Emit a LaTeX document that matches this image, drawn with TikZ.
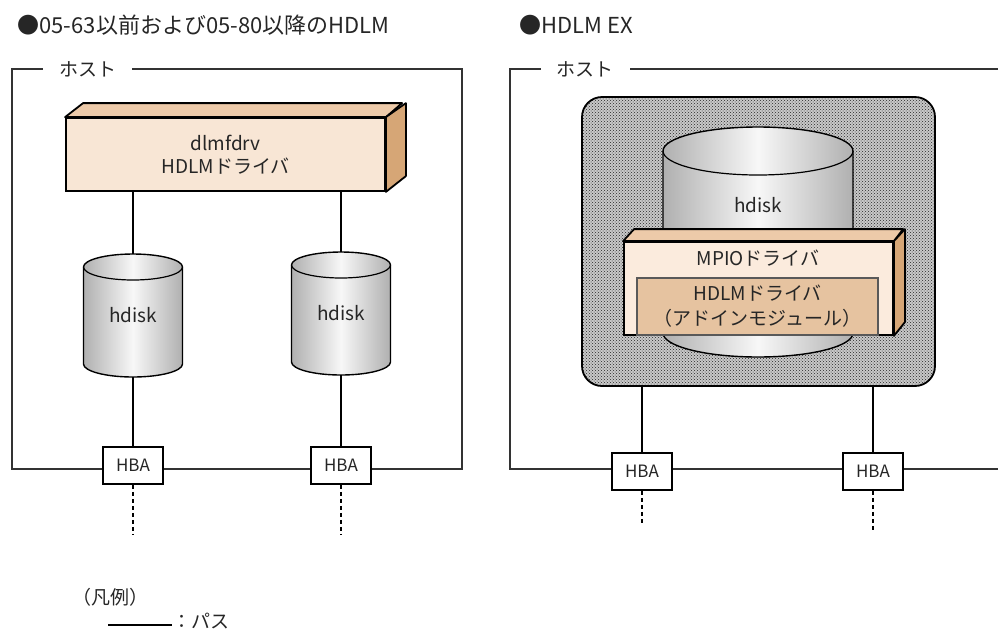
\documentclass[tikz,border=0pt]{standalone}
\usepackage{fontspec}
\setmainfont{Noto Sans CJK JP}
\usetikzlibrary{patterns}
\definecolor{peachfront}{HTML}{F8E6D5}
\definecolor{peachtop}{HTML}{EDCAA9}
\definecolor{peachside}{HTML}{D6A676}
\definecolor{mpiofront}{HTML}{FBEBDD}
\definecolor{hdlminner}{HTML}{E6C3A0}
\newcommand{\diskcyl}[5]{%
  \shade[left color=gray!62, right color=gray!62, middle color=gray!6, draw=black, line width=1.4pt]
    (#1-#4,#2+#5) -- (#1-#4,#3-#5) arc[start angle=180, end angle=0, x radius=#4, y radius=#5]
    -- (#1+#4,#2+#5) arc[start angle=0, end angle=-180, x radius=#4, y radius=#5] -- cycle;
  \draw[line width=1.2pt] (#1-#4,#2+#5) arc[start angle=180, end angle=0, x radius=#4, y radius=#5];
}
\begin{document}
\begin{tikzpicture}[x=1pt,y=-1pt,
  every node/.style={font=\fontsize{19}{23}\selectfont, text=black!85},
  frame/.style={line width=1.6pt, draw=black!80},
  pathline/.style={line width=2.8pt, draw=black},
  dashpath/.style={line width=2.8pt, dash pattern=on 4pt off 3pt},
  hba/.style={draw, fill=white, line width=1.5pt, minimum width=60pt, minimum height=37pt, inner sep=0pt, font=\fontsize{17}{19}\selectfont},
  frontbox/.style={draw, line width=1.8pt, inner sep=0pt, align=center},
  anchorbox/.style={inner sep=0pt},
  hostlabel/.style={fill=white, inner xsep=16pt, inner ysep=2pt},
  titletext/.style={anchor=west, font=\fontsize{22}{26}\selectfont},
  facestyle/.style={draw, line width=1.8pt, line join=round},
]
\useasboundingbox (0,0) rectangle (998,630);

% ---------------- Titles
\node[titletext] (titleL) at (14,25) {●05-63以前および05-80以降のHDLM};
\node[titletext] (titleR) at (516,25) {●HDLM EX};

% ================= LEFT PANEL
\draw[frame] (12,69) rectangle (462,469);
\node[hostlabel] (hostL) at (87.5,69) {ホスト};

% dlmfdrv box
\node[frontbox, fill=peachfront, minimum width=319pt, minimum height=73pt] (drv) at (225.5,154.5) {dlmfdrv\\HDLMドライバ};
\draw[facestyle, fill=peachtop] (drv.north west) -- ++(18,-14) -- ++(319,0) -- (drv.north east) -- cycle;
\draw[facestyle, fill=peachside] (drv.north east) -- ++(20,-14) -- ++(0,73) -- (drv.south east) -- cycle;

% cylinders
\diskcyl{133}{254}{377}{49.5}{13}
\diskcyl{341}{252}{375}{49.5}{13}
\node[anchorbox, minimum width=99pt, minimum height=123pt] (cylL) at (133,315.5) {hdisk};
\node[anchorbox, minimum width=99pt, minimum height=123pt] (cylR) at (341,313.5) {hdisk};

% HBAs
\coordinate (eL) at (133,534);
\coordinate (eR) at (341,534);
\node[hba] (hbaL) at (133,465.5) {HBA};
\node[hba] (hbaR) at (341,465.5) {HBA};

\draw[pathline] (cylL.north |- drv.south) -- (cylL.north);
\draw[pathline] (cylR.north |- drv.south) -- (cylR.north);
\draw[pathline] (cylL.south) -- (hbaL.north);
\draw[pathline] (cylR.south) -- (hbaR.north);
\draw[dashpath] (hbaL.south) -- (eL);
\draw[dashpath] (hbaR.south) -- (eR);

% ================= RIGHT PANEL
\draw[frame] (999,69) -- (510,69) -- (510,469) -- (999,469);
\node[hostlabel] (hostR) at (585,69) {ホスト};

\node[draw=black, line width=1.8pt, rounded corners=20pt, minimum width=353pt, minimum height=289pt,
      preaction={fill=gray!42}, pattern=crosshatch dots, pattern color=black!85] (ex) at (758.5,241.5) {};

\diskcyl{758}{127}{357}{95}{24}
\node[anchorbox] (cylX) at (758,205) {hdisk};

% MPIO box
\node[frontbox, fill=mpiofront, minimum width=269pt, minimum height=93pt] (mpio) at (758.5,288.5) {};
\draw[facestyle, fill=peachtop] (mpio.north west) -- ++(11,-12) -- ++(269,0) -- (mpio.north east) -- cycle;
\draw[facestyle, fill=peachside] (mpio.north east) -- ++(11,-12) -- ++(0,93) -- (mpio.south east) -- cycle;
\node[anchorbox] (mpiotext) at (758,258) {MPIOドライバ};
\node[draw=black!65, line width=1.3pt, fill=hdlminner, minimum width=241pt, minimum height=57pt, inner sep=0pt, align=center,
      font=\fontsize{19}{25}\selectfont] (hdlm) at (757.5,306.5) {HDLMドライバ\\（アドインモジュール）};

% HBAs
\coordinate (eXL) at (642,525);
\coordinate (eXR) at (873,532);
\node[hba] (hbaXL) at (642,471.5) {HBA};
\node[hba] (hbaXR) at (873,471.5) {HBA};
\draw[pathline] (hbaXL.north |- ex.south) -- (hbaXL.north);
\draw[pathline] (hbaXR.north |- ex.south) -- (hbaXR.north);
\draw[dashpath] (hbaXL.south) -- (eXL);
\draw[dashpath] (hbaXR.south) -- (eXR);

% ================= LEGEND
\node[font=\fontsize{19}{22}\selectfont] (legend) at (110,597) {（凡例）};
\coordinate (lg1) at (108,625);
\coordinate (lg2) at (172,625);
\draw[line width=2.8pt] (lg1) -- (lg2);
\node[anchor=west, inner sep=0pt] (lgtext) at (172,621) {：パス};
\end{tikzpicture}
\end{document}
